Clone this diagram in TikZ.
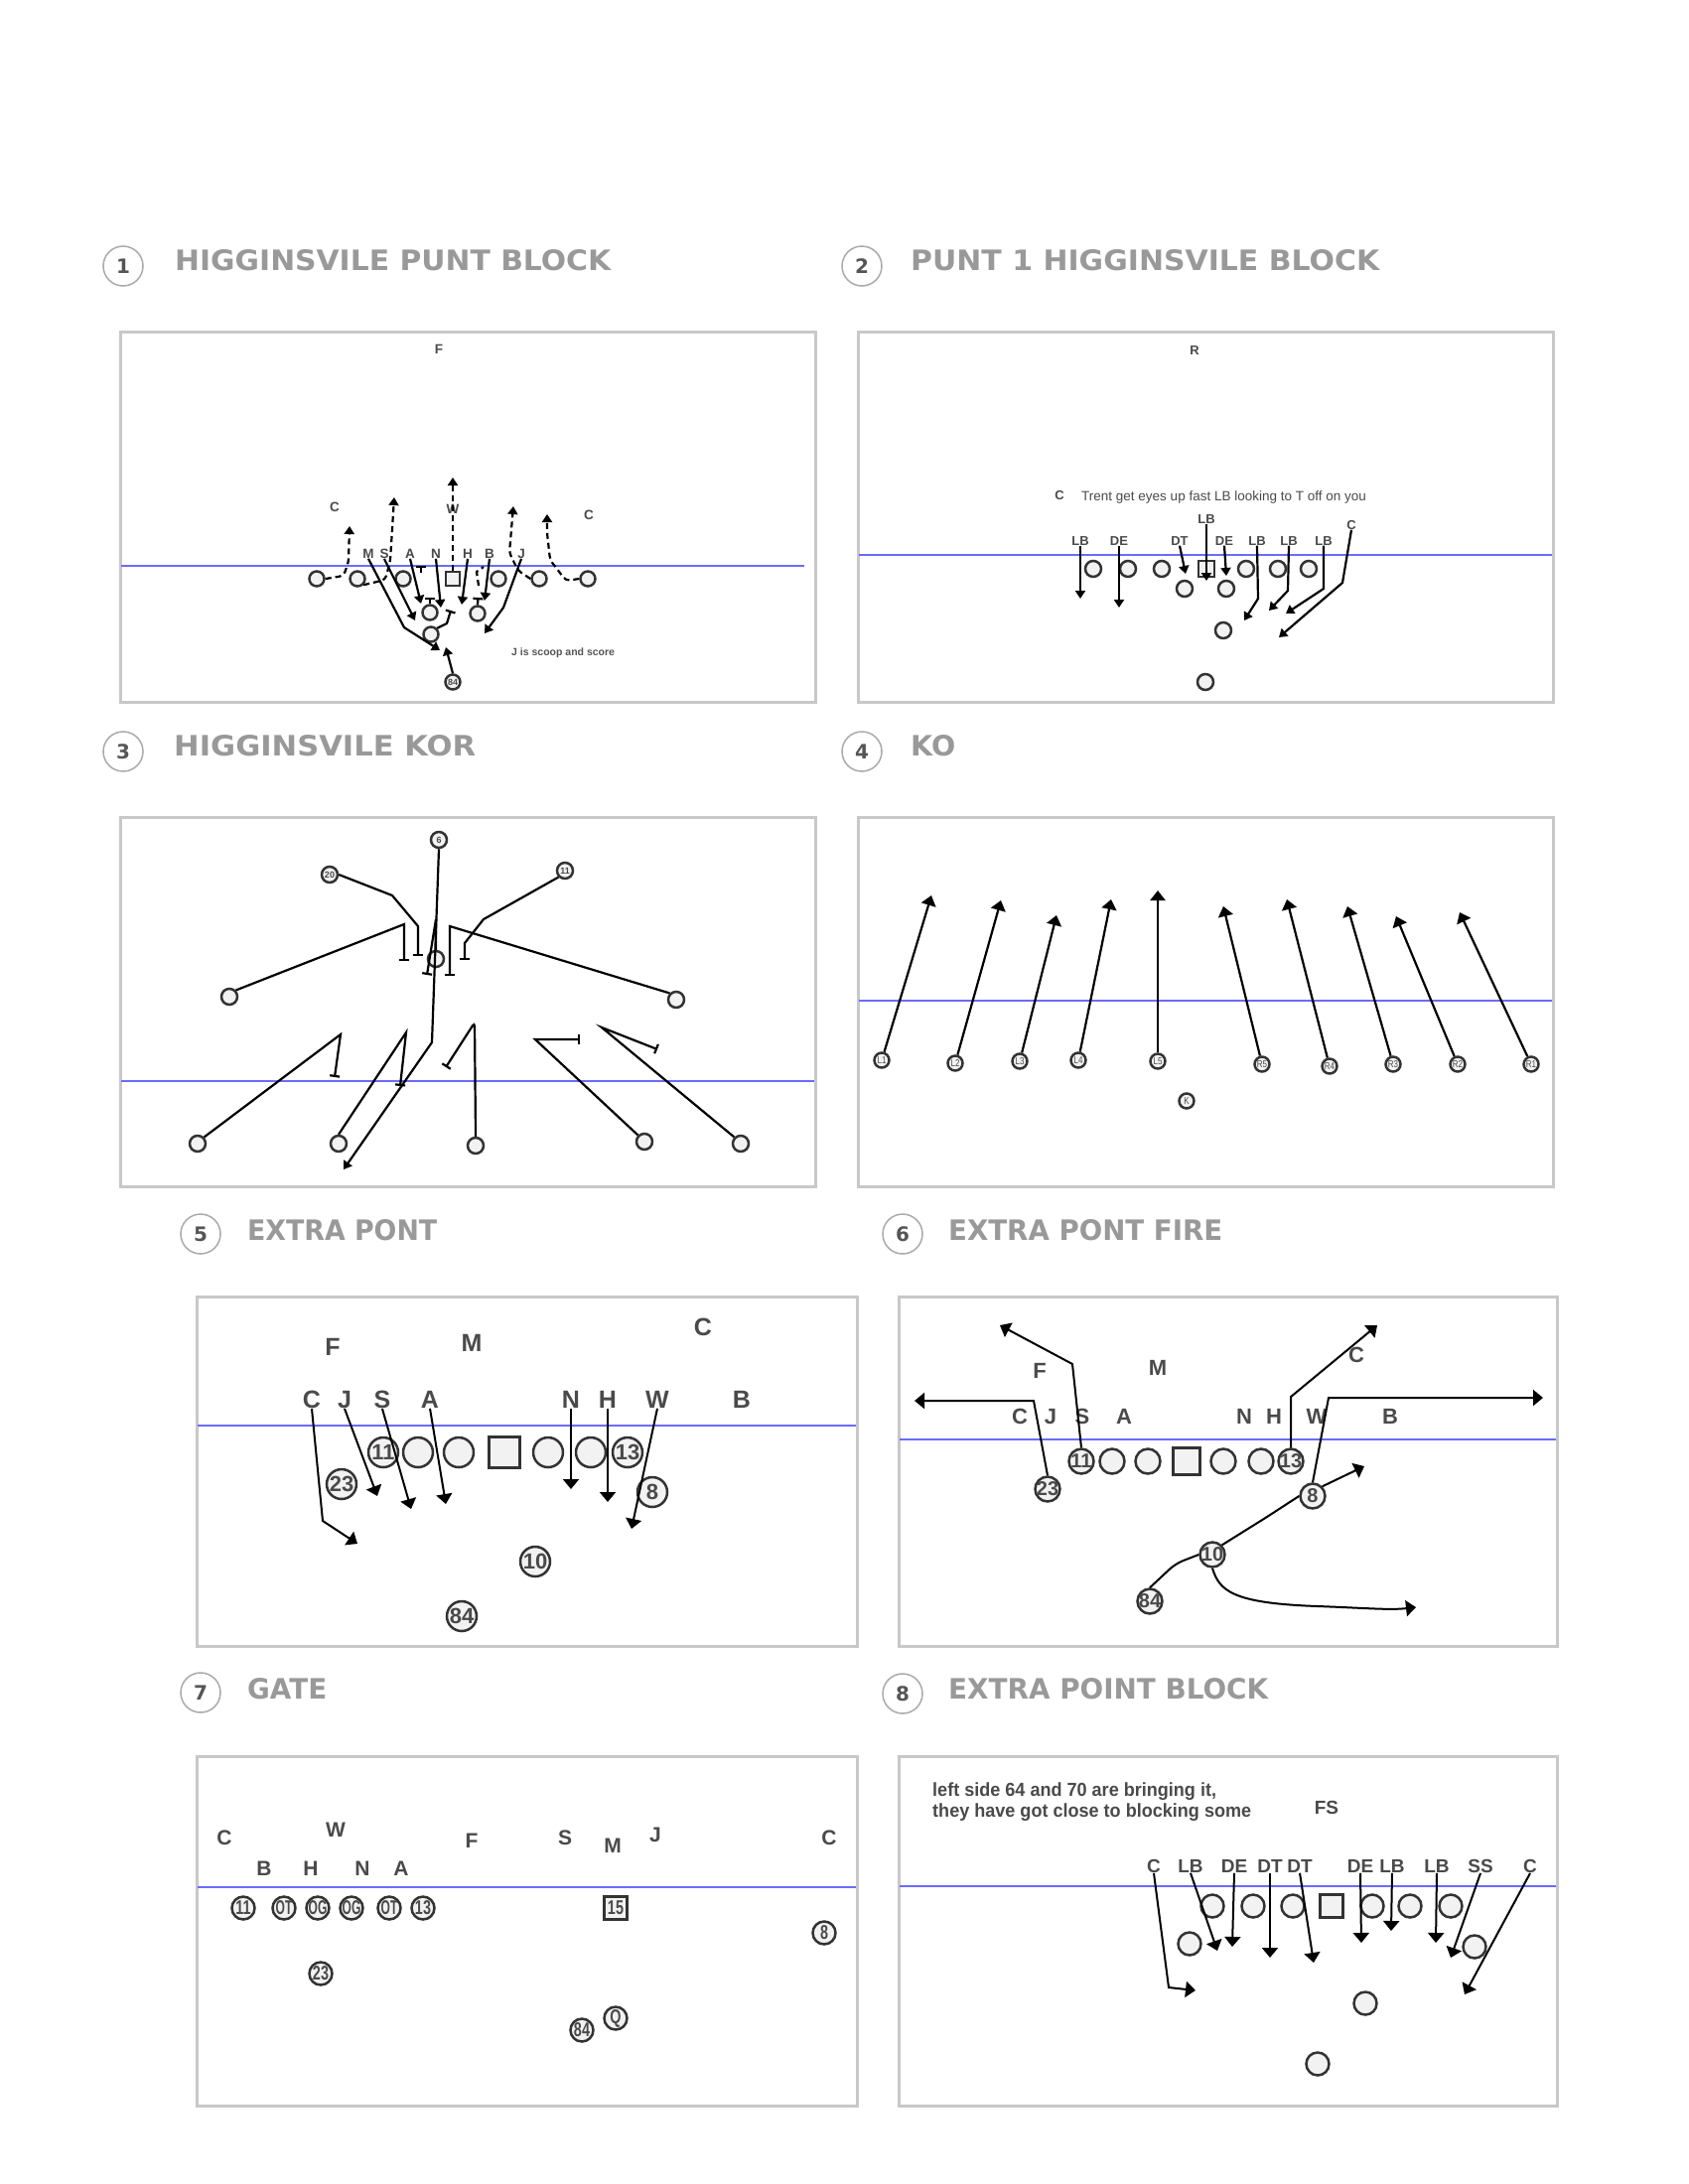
\documentclass[tikz,border=0pt]{standalone}
\usepackage{graphicx}
\usepackage{fontspec}
\setmainfont{Liberation Sans}
\newfontfamily\ttlfont{DejaVu Sans}
\usetikzlibrary{arrows.meta}
\definecolor{panelgray}{HTML}{C8C8C8}
\definecolor{losblue}{HTML}{6B6BFF}
\definecolor{lblgray}{HTML}{4A4A4A}
\definecolor{pdark}{HTML}{333333}
\definecolor{pfill}{HTML}{F2F2F2}
\definecolor{titlegray}{HTML}{999999}
\definecolor{numgray}{HTML}{555555}
\definecolor{ringgray}{HTML}{AAAAAA}
\newcommand{\fsz}[1]{\fontsize{#1}{#1}\selectfont}
\newcommand{\ttl}[2]{\resizebox{#1pt}{21pt}{\ttlfont\bfseries\fsz{29}#2}}
\newcommand{\nm}[1]{\makebox[0pt]{#1}}
\newcommand{\nmq}[2]{\makebox[0pt]{\scalebox{#1}[1]{#2}}}
\tikzset{
  panel/.style={draw=panelgray, line width=3pt},
  los/.style={draw=losblue, line width=2pt},
  ring/.style={circle, draw=ringgray, line width=1.5pt, minimum size=40pt, inner sep=0pt, text=numgray, font=\ttlfont\bfseries\fsz{20}},
  ttlnode/.style={anchor=west, inner sep=0pt, text=titlegray},
  lbl/.style={inner sep=0pt, text=lblgray},
  plr/.style={circle, draw=pdark, fill=pfill, inner sep=0pt, text=lblgray, line width=2.5pt},
  psq/.style={rectangle, draw=pdark, fill=pfill, inner sep=0pt, text=lblgray, line width=2.5pt},
  pp1/.style={plr, minimum size=15pt, font=\bfseries\fsz{9}},
  pp2/.style={plr, minimum size=16pt},
  pp3/.style={plr, minimum size=16pt, font=\bfseries\fsz{9}},
  pp4/.style={plr, minimum size=15pt, font=\fsz{10}},
  pp5/.style={plr, minimum size=30pt, font=\bfseries\fsz{22}},
  pp6/.style={plr, minimum size=25pt, font=\bfseries\fsz{20}},
  pp7/.style={plr, minimum size=23pt, font=\bfseries\fsz{20}},
  pp8/.style={plr, minimum size=23pt},
  rA/.style={draw=black, line width=2.2pt, -{Triangle[length=8pt,width=10pt]}},
  rAd/.style={rA, dash pattern=on 6pt off 4pt, rounded corners=4pt},
  rD/.style={draw=black, line width=2.2pt, dash pattern=on 6pt off 4pt},
  rB/.style={draw=black, line width=2.2pt, -{Bar[width=10pt]}},
  rC/.style={draw=black, line width=2.2pt, -{Triangle[length=10pt,width=15pt]}},
  rE/.style={draw=black, line width=2pt, -{Triangle[length=10pt,width=16pt]}},
}
\begin{document}
\begin{tikzpicture}[x=1pt,y=-1pt]
\path[use as bounding box, fill=white] (0,0) rectangle (1700,2200);

% ---------------- titles ----------------
\node[ring] (c1) at (124,268) {1};
\node[ttlnode] (t1) at (176,262) {\ttl{439}{HIGGINSVILE PUNT BLOCK}};
\node[ring] (c2) at (868,268) {2};
\node[ttlnode] (t2) at (917,262) {\ttl{472}{PUNT 1 HIGGINSVILE BLOCK}};
\node[ring] (c3) at (124,757) {3};
\node[ttlnode] (t3) at (175,751) {\ttl{304}{HIGGINSVILE KOR}};
\node[ring] (c4) at (868,757) {4};
\node[ttlnode] (t4) at (917,751) {\ttl{45}{KO}};
\node[ring] (c5) at (202,1243) {5};
\node[ttlnode] (t5) at (249,1239) {\ttl{191}{EXTRA PONT}};
\node[ring] (c6) at (909,1243) {6};
\node[ttlnode] (t6) at (955,1239) {\ttl{276}{EXTRA PONT FIRE}};
\node[ring] (c7) at (202,1705) {7};
\node[ttlnode] (t7) at (249,1701) {\ttl{80}{GATE}};
\node[ring] (c8) at (909,1706) {8};
\node[ttlnode] (t8) at (955,1701) {\ttl{322}{EXTRA POINT BLOCK}};

% ---------------- panel 1 ----------------
\draw[panel] (121,334) rectangle (821,707);
\draw[los] (122,570) -- (810,570);
\begin{scope}[every node/.append style={font=\bfseries\fsz{13.5}}]
\node[lbl] (p1F) at (442,352) {F};
\node[lbl] (p1Ca) at (337,511) {C};
\node[lbl] (p1W) at (456,513) {W};
\node[lbl] (p1Cb) at (593,519) {C};
\node[lbl] (p1M) at (371,558) {M};
\node[lbl] (p1S) at (387,558) {S};
\node[lbl] (p1A) at (413,558) {A};
\node[lbl] (p1N) at (439,558) {N};
\node[lbl] (p1H) at (471,558) {H};
\node[lbl] (p1B) at (493,558) {B};
\node[lbl] (p1J) at (525,558) {J};
\end{scope}
\node[lbl, anchor=west, font=\bfseries\fsz{10.5}, text=numgray] (p1note) at (515,658) {J is scoop and score};
\node[pp1] (p1o1) at (319,583) {};
\node[pp1] (p1o2) at (360,583) {};
\node[pp1] (p1o3) at (406,583) {};
\node[psq, minimum size=14pt] (p1q) at (456,583) {};
\node[pp1] (p1o5) at (502,583) {};
\node[pp1] (p1o6) at (543,583) {};
\node[pp1] (p1o7) at (592,583) {};
\node[pp1] (p1u1) at (433,617) {};
\node[pp1] (p1u2) at (481,618) {};
\node[pp1] (p1v) at (434,639) {};
\node[pp1] (p1k) at (456,687) {\nm{84}};
\coordinate (p1e1) at (352,530);
\coordinate (p1e2) at (397,501);
\coordinate (p1e3) at (456,481);
\coordinate (p1e4) at (517,510);
\coordinate (p1e5) at (551,518);
\coordinate (p1eM) at (443,655);
\coordinate (p1eS) at (418,625);
\coordinate (p1eA) at (424,608);
\coordinate (p1eN) at (444,612);
\coordinate (p1eH) at (465,609);
\coordinate (p1eB) at (488,605);
\coordinate (p1eJ) at (488,638);
\coordinate (p1eK) at (449,652);
\coordinate (p1eV) at (454,615);
\coordinate (p1eU1) at (433,602);
\coordinate (p1eU2) at (481.5,602);
\coordinate (p1tA0) at (424,577);
\coordinate (p1tA) at (424,570);
\coordinate (p1hk1) at (482,590);
\coordinate (p1hk2) at (487,571);
\draw[rAd] (p1o1.east) -- (346,580) -- (351,566) -- (p1e1);
\draw[rAd] (p1o2.south east) -- (388,584) -- (393,565) -- (p1e2);
\draw[rAd] (p1q.north) -- (p1e3);
\draw[rAd] (p1o6.west) -- (522,575) -- (513,557) -- (p1e4);
\draw[rAd] (p1o7.west) -- (570,585) -- (554,564) -- (551,537) -- (p1e5);
\draw[rD] (p1hk1) -- (480,576) -- (p1hk2);
\draw[rA] (p1M.south) -- (407,632) -- (p1eM);
\draw[rA] (p1S.south) -- (p1eS);
\draw[rA] (p1A.south) -- (p1eA);
\draw[rA] (p1N.south) -- (p1eN);
\draw[rA] (p1H.south) -- (p1eH);
\draw[rA] (p1B.south) -- (p1eB);
\draw[rA] (p1J.south) -- (507,612) -- (p1eJ);
\draw[rA] (p1k.north) -- (p1eK);
\draw[rB] (p1v.north east) -- (450,628) -- (p1eV);
\draw[rB] (p1u1.north) -- (p1eU1);
\draw[rB] (p1u2.north) -- (p1eU2);
\draw[rB] (p1tA0) -- (p1tA);

% ---------------- panel 2 ----------------
\draw[panel] (864,334) rectangle (1564,707);
\draw[los] (865,558.5) -- (1563,558.5);
\begin{scope}[every node/.append style={font=\bfseries\fsz{13}}]
\node[lbl] (p2R) at (1203,353) {R};
\node[lbl] (p2Ca) at (1067,499) {C};
\node[lbl] (p2LBt) at (1215,523) {LB};
\node[lbl] (p2Cb) at (1361,529) {C};
\node[lbl] (p2LB1) at (1088,545) {LB};
\node[lbl] (p2DE1) at (1127,545) {DE};
\node[lbl] (p2DT) at (1188,545) {DT};
\node[lbl] (p2DE2) at (1233,545) {DE};
\node[lbl] (p2LB3) at (1266,545) {LB};
\node[lbl] (p2LB4) at (1298,545) {LB};
\node[lbl] (p2LB5) at (1333,545) {LB};
\end{scope}
\node[lbl, anchor=west, font=\fsz{13.5}] (p2note) at (1089,501) {Trent get eyes up fast LB looking to T off on you};
\node[pp2] (p2o1) at (1101,573) {};
\node[pp2] (p2o2) at (1136,573) {};
\node[pp2] (p2o3) at (1170,573) {};
\node[psq, minimum size=16pt] (p2q) at (1215,573) {};
\node[pp2] (p2o5) at (1255,573) {};
\node[pp2] (p2o6) at (1287,573) {};
\node[pp2] (p2o7) at (1318,573) {};
\node[pp2] (p2u1) at (1193,593) {};
\node[pp2] (p2u2) at (1235,593) {};
\node[pp2] (p2v) at (1232,635) {};
\node[pp2] (p2w) at (1214,687) {};
\coordinate (p2eLB1) at (1088,603);
\coordinate (p2eDE1) at (1127,612);
\coordinate (p2eDT) at (1194,578);
\coordinate (p2eDE2) at (1235,580);
\coordinate (p2eLBt) at (1215,585);
\coordinate (p2eLB3) at (1253,625);
\coordinate (p2eLB4) at (1278,615);
\coordinate (p2eLB5) at (1295,618);
\coordinate (p2eC) at (1288,642);
\draw[rA] (p2LB1.south) -- (p2eLB1);
\draw[rA] (p2DE1.south) -- (p2eDE1);
\draw[rA] (p2DT.south) -- (p2eDT);
\draw[rA] (p2DE2.south) -- (p2eDE2);
\draw[rA] (p2LBt.south) -- (p2eLBt);
\draw[rA] (p2LB3.south) -- (1267,603) -- (p2eLB3);
\draw[rA] (p2LB4.south) -- (1297,595) -- (p2eLB4);
\draw[rA] (p2LB5.south) -- (1333,593) -- (p2eLB5);
\draw[rA] (p2Cb.south) -- (1352,587) -- (p2eC);

% ---------------- panel 3 ----------------
\draw[panel] (121,823) rectangle (821,1195);
\draw[los] (122,1089) -- (820,1089);
\node[pp3] (p3n6) at (442,846) {\nm{6}};
\node[pp3] (p3n20) at (332,881) {\nm{20}};
\node[pp3] (p3n11) at (569,877) {\nm{11}};
\node[pp3] (p3c) at (439,966) {};
\node[pp3] (p3lm) at (231,1004) {};
\node[pp3] (p3rm) at (681,1007) {};
\node[pp3] (p3b1) at (199,1152) {};
\node[pp3] (p3b2) at (341,1152) {};
\node[pp3] (p3b3) at (479,1154) {};
\node[pp3] (p3b4) at (649,1150) {};
\node[pp3] (p3b5) at (746,1152) {};
\coordinate (p3e6) at (346,1178);
\coordinate (p3eC) at (430,982);
\coordinate (p3eLM) at (407,968);
\coordinate (p3e20) at (421,963);
\coordinate (p3e11) at (468,967);
\coordinate (p3eRM) at (453,983);
\coordinate (p3eb1) at (337,1085);
\coordinate (p3eb2) at (403,1094);
\coordinate (p3eb3) at (449,1075);
\coordinate (p3eb4) at (584,1047);
\coordinate (p3eb5) at (662,1057);
\draw[rA] (p3n6.south) -- (435,1050) -- (p3e6);
\draw[rB] (p3c.north) -- (439,926) -- (p3eC);
\draw[rB] (p3lm.north east) -- (407,931) -- (p3eLM);
\draw[rB] (p3n20.east) -- (395,902) -- (421,933) -- (p3e20);
\draw[rB] (p3n11.south west) -- (487,926) -- (468,950) -- (p3e11);
\draw[rB] (p3rm.north west) -- (453,933) -- (p3eRM);
\draw[rB] (p3b1.north east) -- (343,1042) -- (p3eb1);
\draw[rB] (p3b2.north) -- (409,1040) -- (p3eb2);
\draw[rB, rounded corners=4pt] (p3b3.north) -- (478,1030) -- (p3eb3);
\draw[rB] (p3b4.north west) -- (539,1047) -- (p3eb4);
\draw[rB] (p3b5.north west) -- (606,1035) -- (p3eb5);

% ---------------- panel 4 ----------------
\draw[panel] (864,823) rectangle (1564,1195);
\draw[los] (865,1008) -- (1563,1008);
\node[pp4] (p4L1) at (888,1068) {\nmq{0.8}{L1}};
\node[pp4] (p4L2) at (962,1071) {\nmq{0.8}{L2}};
\node[pp4] (p4L3) at (1027,1069) {\nmq{0.8}{L3}};
\node[pp4] (p4L4) at (1086,1068) {\nmq{0.8}{L4}};
\node[pp4] (p4L5) at (1166,1069) {\nmq{0.8}{L5}};
\node[pp4] (p4R5) at (1271,1072) {\nmq{0.8}{R5}};
\node[pp4] (p4R4) at (1339,1074) {\nmq{0.8}{R4}};
\node[pp4] (p4R3) at (1403,1072) {\nmq{0.8}{R3}};
\node[pp4] (p4R2) at (1468,1072) {\nmq{0.8}{R2}};
\node[pp4] (p4R1) at (1542,1072) {\nmq{0.8}{R1}};
\node[pp4] (p4K) at (1195,1109) {\nmq{0.8}{K}};
\coordinate (p4eL1) at (938,902);
\coordinate (p4eL2) at (1008,907);
\coordinate (p4eL3) at (1064,922);
\coordinate (p4eL4) at (1119,906);
\coordinate (p4eL5) at (1166,897);
\coordinate (p4eR5) at (1232,913);
\coordinate (p4eR4) at (1296,906);
\coordinate (p4eR3) at (1357,913);
\coordinate (p4eR2) at (1406,923);
\coordinate (p4eR1) at (1470,919);
\foreach \n in {L1,L2,L3,L4,L5,R5,R4,R3,R2,R1}{\draw[rC] (p4\n) -- (p4e\n);}

% ---------------- panel 5 ----------------
\draw[panel] (198,1306) rectangle (863,1658);
\draw[los] (199,1436) -- (862,1436);
\begin{scope}[every node/.append style={font=\bfseries\fsz{25}}]
\node[lbl] (p5F) at (335,1357) {F};
\node[lbl] (p5M) at (475,1353) {M};
\node[lbl] (p5Ct) at (708,1337) {C};
\node[lbl] (p5C) at (314,1410) {C};
\node[lbl] (p5J) at (347,1410) {J};
\node[lbl] (p5S) at (385,1410) {S};
\node[lbl] (p5A) at (433,1410) {A};
\node[lbl] (p5N) at (575,1410) {N};
\node[lbl] (p5H) at (612,1410) {H};
\node[lbl] (p5W) at (662,1410) {W};
\node[lbl] (p5B) at (747,1410) {B};
\end{scope}
\node[pp5] (p5n11) at (386,1463) {\nm{11}};
\node[pp5] (p5o2) at (421,1463) {};
\node[pp5] (p5o3) at (462,1463) {};
\node[psq, minimum size=31pt] (p5q) at (508,1463) {};
\node[pp5] (p5o5) at (552,1463) {};
\node[pp5] (p5o6) at (595,1463) {};
\node[pp5] (p5n13) at (632,1463) {\nm{13}};
\node[pp5] (p5n23) at (344,1495) {\nm{23}};
\node[pp5] (p5n8) at (657,1503) {\nm{8}};
\node[pp5] (p5n10) at (539,1573) {\nm{10}};
\node[pp5] (p5n84) at (465,1628) {\nm{84}};
\coordinate (p5eC) at (360,1555);
\coordinate (p5eJ) at (380,1507);
\coordinate (p5eS) at (414,1520);
\coordinate (p5eA) at (449,1515);
\coordinate (p5eN) at (575,1500);
\coordinate (p5eH) at (612,1513);
\coordinate (p5eW) at (636,1540);
\draw[rE] (p5C.south) -- (325,1532) -- (p5eC);
\draw[rE] (p5J.south) -- (p5eJ);
\draw[rE] (p5S.south) -- (p5eS);
\draw[rE] (p5A.south) -- (p5eA);
\draw[rE] (p5N.south) -- (p5eN);
\draw[rE] (p5H.south) -- (p5eH);
\draw[rE] (p5W.south) -- (p5eW);

% ---------------- panel 6 ----------------
\draw[panel] (905,1306) rectangle (1568,1658);
\draw[los] (906,1450) -- (1567,1450);
\begin{scope}[every node/.append style={font=\bfseries\fsz{22}}]
\node[lbl] (p6F) at (1047,1381) {F};
\node[lbl] (p6M) at (1166,1378) {M};
\node[lbl] (p6Ct) at (1366,1365) {C};
\node[lbl] (p6C) at (1027,1427) {C};
\node[lbl] (p6J) at (1058,1427) {J};
\node[lbl] (p6S) at (1090,1427) {S};
\node[lbl] (p6A) at (1132,1427) {A};
\node[lbl] (p6N) at (1253,1427) {N};
\node[lbl] (p6H) at (1283,1427) {H};
\node[lbl] (p6W) at (1326,1427) {W};
\node[lbl] (p6B) at (1400,1427) {B};
\end{scope}
\coordinate (p6e23) at (921,1411);
\coordinate (p6e11) at (1007,1335);
\coordinate (p6e13) at (1387,1335);
\coordinate (p6e8) at (1554,1408);
\coordinate (p6e8b) at (1374,1477);
\coordinate (p6e10) at (1426,1619);
\node[pp6] (p6n11) at (1089,1472) {\nm{11}};
\node[pp6] (p6o2) at (1120,1472) {};
\node[pp6] (p6o3) at (1156,1472) {};
\node[psq, minimum size=27pt] (p6q) at (1195,1472) {};
\node[pp6] (p6o5) at (1232,1472) {};
\node[pp6] (p6o6) at (1270,1472) {};
\node[pp6] (p6n13) at (1300,1472) {\nm{13}};
\node[pp6] (p6n23) at (1055,1500) {\nm{23}};
\node[pp6] (p6n8) at (1322,1507) {\nm{8}};
\node[pp6] (p6n10) at (1221,1566) {\nm{10}};
\node[pp6] (p6n84) at (1158,1613) {\nm{84}};
\draw[rE] (p6n23.north) -- (1041,1411) -- (p6e23);
\draw[rE] (p6n11.north) -- (1080,1374) -- (p6e11);
\draw[rE] (p6n13.north) -- (1300,1407) -- (p6e13);
\draw[rE] (p6n8.north) -- (1338,1408) -- (p6e8);
\draw[rE] (p6n8.north east) -- (p6e8b);
\draw[draw=black, line width=2pt, rounded corners=8pt] (p6n84.north) -- (1184,1575) -- (p6n10.west);
\draw[draw=black, line width=2pt, rounded corners=8pt] (p6n10.north east) -- (1276,1528) -- (p6n8.west);
\draw[rE] (p6n10.south) .. controls (1228,1602) and (1240,1615) .. (1327,1618) .. controls (1380,1620) and (1400,1622) .. (p6e10);

% ---------------- panel 7 ----------------
\draw[panel] (198,1769) rectangle (863,2121);
\draw[los] (199,1901) -- (862,1901);
\begin{scope}[every node/.append style={font=\bfseries\fsz{21}}]
\node[lbl] (p7Ca) at (226,1851) {C};
\node[lbl] (p7W) at (338,1843) {W};
\node[lbl] (p7F) at (475,1854) {F};
\node[lbl] (p7S) at (569,1851) {S};
\node[lbl] (p7M) at (617,1859) {M};
\node[lbl] (p7J) at (660,1848) {J};
\node[lbl] (p7Cb) at (835,1851) {C};
\node[lbl] (p7B) at (266,1882) {B};
\node[lbl] (p7H) at (313,1882) {H};
\node[lbl] (p7N) at (365,1882) {N};
\node[lbl] (p7A) at (404,1882) {A};
\end{scope}
\node[pp7] (p7n11) at (245,1922) {\nmq{0.72}{11}};
\node[pp7] (p7OTa) at (286,1922) {\nmq{0.6}{OT}};
\node[pp7] (p7OGa) at (320,1922) {\nmq{0.6}{OG}};
\node[pp7] (p7OGb) at (354,1922) {\nmq{0.6}{OG}};
\node[pp7] (p7OTb) at (392,1922) {\nmq{0.6}{OT}};
\node[pp7] (p7n13) at (426,1922) {\nmq{0.72}{13}};
\node[psq, minimum size=23pt, font=\bfseries\fsz{20}] (p7n15) at (620,1922) {\nmq{0.72}{15}};
\node[pp7] (p7n8) at (830,1947) {\nmq{0.72}{8}};
\node[pp7] (p7n23) at (323,1988) {\nmq{0.72}{23}};
\node[pp7] (p7n84) at (586,2045) {\nmq{0.72}{84}};
\node[pp7] (p7Q) at (620,2033) {\nmq{0.72}{Q}};

% ---------------- panel 8 ----------------
\draw[panel] (905,1769) rectangle (1568,2121);
\draw[los] (906,1900) -- (1567,1900);
\node[lbl, anchor=west, font=\bfseries\fontsize{19}{21}\selectfont] (p8note) at (939,1816)
  {\scalebox{0.95}[1]{\begin{tabular}{@{}l@{}}left side 64 and 70 are bringing it,\\they have got close to blocking some\end{tabular}}};
\begin{scope}[every node/.append style={font=\bfseries\fsz{19}}]
\node[lbl] (p8FS) at (1336,1821) {FS};
\node[lbl] (p8Ca) at (1162,1880) {C};
\node[lbl] (p8LBa) at (1199,1880) {LB};
\node[lbl] (p8DEa) at (1243,1880) {DE};
\node[lbl] (p8DTa) at (1279,1880) {DT};
\node[lbl] (p8DTb) at (1309,1880) {DT};
\node[lbl] (p8DEb) at (1370,1880) {DE};
\node[lbl] (p8LBb) at (1402,1880) {LB};
\node[lbl] (p8LBc) at (1447,1880) {LB};
\node[lbl] (p8SS) at (1491,1880) {SS};
\node[lbl] (p8Cb) at (1541,1880) {C};
\end{scope}
\node[pp8] (p8o1) at (1221,1920) {};
\node[pp8] (p8o2) at (1262,1920) {};
\node[pp8] (p8o3) at (1302,1920) {};
\node[psq, minimum size=23pt] (p8q) at (1341,1920) {};
\node[pp8] (p8o5) at (1382,1920) {};
\node[pp8] (p8o6) at (1420,1920) {};
\node[pp8] (p8o7) at (1461,1920) {};
\node[pp8] (p8u1) at (1198,1958) {};
\node[pp8] (p8u2) at (1485,1961) {};
\node[pp8] (p8v) at (1375,2018) {};
\node[pp8] (p8w) at (1327,2079) {};
\coordinate (p8eCa) at (1204,2005);
\coordinate (p8eLBa) at (1226,1965);
\coordinate (p8eDEa) at (1241,1961);
\coordinate (p8eDTa) at (1279,1972);
\coordinate (p8eDTb) at (1323,1977);
\coordinate (p8eDEb) at (1371,1957);
\coordinate (p8eLBb) at (1401,1945);
\coordinate (p8eLBc) at (1446,1957);
\coordinate (p8eSS) at (1461,1972);
\coordinate (p8eCb) at (1475,2009);
\draw[rE] (p8Ca.south) -- (1177,2002) -- (p8eCa);
\draw[rE] (p8LBa.south) -- (p8eLBa);
\draw[rE] (p8DEa.south) -- (p8eDEa);
\draw[rE] (p8DTa.south) -- (p8eDTa);
\draw[rE] (p8DTb.south) -- (p8eDTb);
\draw[rE] (p8DEb.south) -- (p8eDEb);
\draw[rE] (p8LBb.south) -- (p8eLBb);
\draw[rE] (p8LBc.south) -- (p8eLBc);
\draw[rE] (p8SS.south) -- (p8eSS);
\draw[rE] (p8Cb.south) -- (p8eCb);
\end{tikzpicture}
\end{document}
